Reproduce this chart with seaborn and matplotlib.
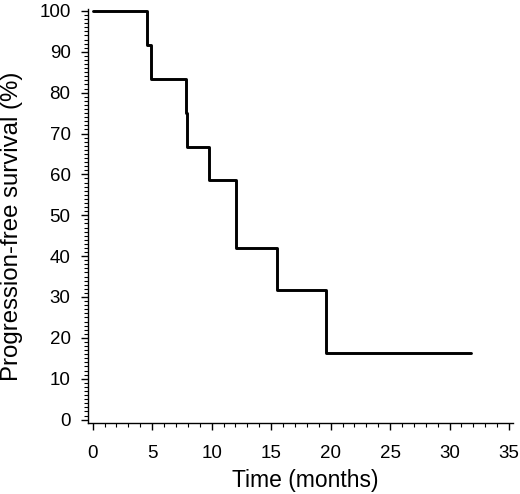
import matplotlib
matplotlib.use("Agg")
import matplotlib.pyplot as plt
from matplotlib.ticker import MultipleLocator
import seaborn as sns
import pandas as pd

# Kaplan-Meier step data (time in months, survival in %)
time_months = [0, 4.6, 4.93, 7.82, 7.96, 9.78, 12.03, 15.5, 19.6, 31.8]
survival_pct = [100, 91.7, 83.3, 75.0, 66.7, 58.7, 41.9, 31.8, 16.2, 16.2]

x_ticks = [0, 5, 10, 15, 20, 25, 30, 35]
y_ticks = [0, 10, 20, 30, 40, 50, 60, 70, 80, 90, 100]

sns.set_style("ticks")
plt.rcParams['font.family'] = ['Liberation Sans', 'DejaVu Sans']
plt.rcParams['text.color'] = 'black'
plt.rcParams['axes.labelcolor'] = 'black'

df = pd.DataFrame({"time": time_months, "surv": survival_pct})

fig = plt.figure(figsize=(5.2, 4.94), dpi=100)
ax = fig.add_axes([0.169, 0.144, 0.818, 0.838])

sns.lineplot(data=df, x="time", y="surv", ax=ax, drawstyle="steps-post",
             color="black", linewidth=2.1, estimator=None)

ax.set_xlim(-0.4, 35.35)
ax.set_ylim(-0.8, 100.5)
ax.set_xticks(x_ticks)
ax.set_yticks(y_ticks)
ax.xaxis.set_minor_locator(MultipleLocator(1))
ax.yaxis.set_minor_locator(MultipleLocator(1))
ax.tick_params(axis='both', which='major', length=5, width=1.0, labelsize=13.5,
               direction='out', colors='black')
ax.tick_params(axis='x', which='major', pad=11)
ax.tick_params(axis='y', which='major', pad=7.5)
ax.tick_params(axis='both', which='minor', length=3.2, width=0.8, direction='out',
               colors='black')
for s in ['top', 'right']:
    ax.spines[s].set_visible(False)
for s in ['left', 'bottom']:
    ax.spines[s].set_linewidth(1.0)
    ax.spines[s].set_color('black')

ax.set_xlabel("Time (months)", fontsize=16.5)
ax.set_ylabel("Progression-free survival (%)", fontsize=17.3)
ax.xaxis.set_label_coords(0.51, -0.112)
ax.yaxis.set_label_coords(-0.152, 0.476)

fig.savefig("out.png", dpi=100)
